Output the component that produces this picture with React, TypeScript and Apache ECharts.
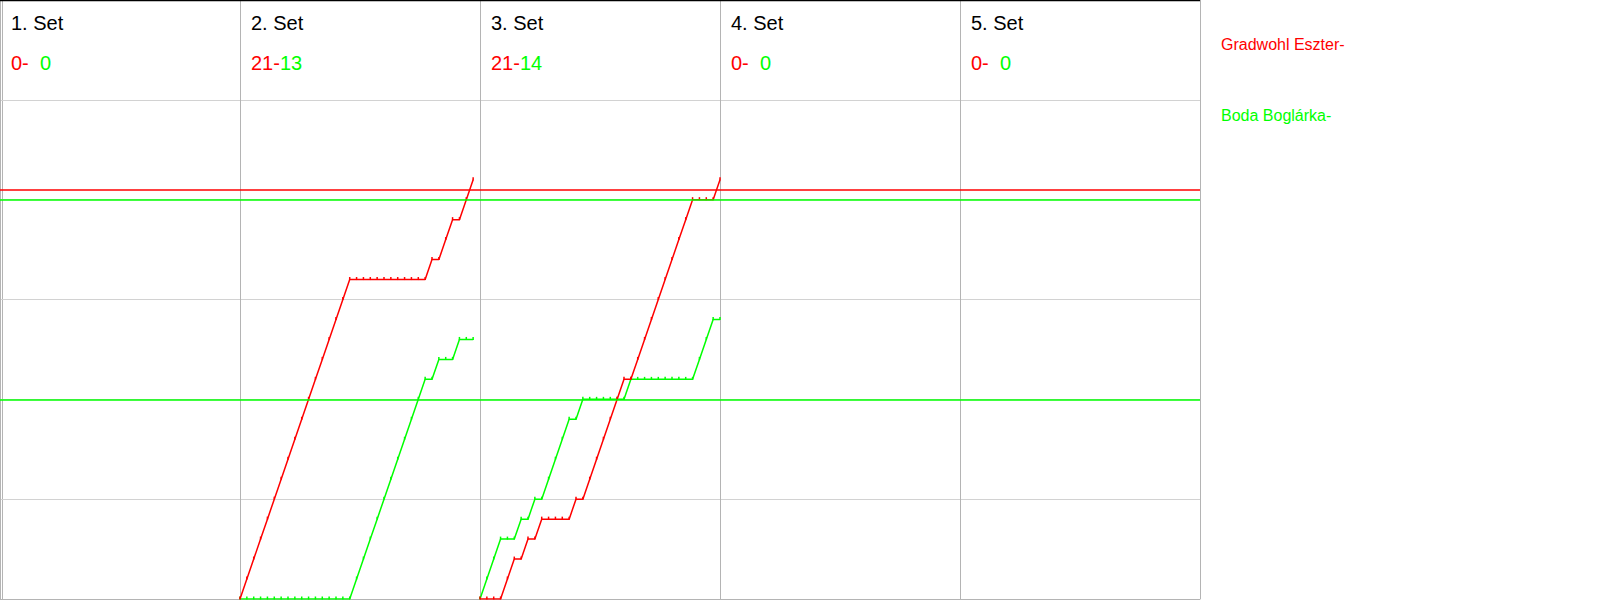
import React, { useEffect, useRef } from 'react';
import * as echarts from 'echarts';

// ---- data ----
const SET_LABELS = ['1. Set', '2. Set', '3. Set', '4. Set', '5. Set'];
const RED_NAME = 'Gradwohl Eszter-';
const GREEN_NAME = 'Boda Boglárka-';
const RED_COLOR = '#ff0000';
const GREEN_COLOR = '#00ff00';
const RALLIES_PER_SET = 35;

// rally winners per set, run-length encoded: [winner, count]
const set1Runs: [string, number][] = [];
const set2Runs: [string, number][] = [['R', 16], ['G', 11], ['R', 1], ['G', 1], ['R', 2], ['G', 1], ['R', 2]];
const set3Runs: [string, number][] = [
  ['G', 3], ['R', 2], ['G', 1], ['R', 1], ['G', 1], ['R', 1], ['G', 4], ['R', 1],
  ['G', 1], ['R', 6], ['G', 1], ['R', 9], ['G', 3], ['R', 1],
];
const set4Runs: [string, number][] = [];
const set5Runs: [string, number][] = [];
const SET_RUNS = [set1Runs, set2Runs, set3Runs, set4Runs, set5Runs];

// horizontal reference lines (score values)
const redRefLines = [20.5];
const greenRefLines = [20, 10];

const FONT = '"Liberation Sans", Arial, sans-serif';

function buildSeries(runs: [string, number][][]) {
  const red: (number[] | null)[] = [];
  const green: (number[] | null)[] = [];
  const finals: { r: number; g: number }[] = [];
  runs.forEach((setRuns, s) => {
    let r = 0;
    let g = 0;
    let i = 0;
    const base = s * RALLIES_PER_SET;
    if (setRuns.length) {
      red.push([base, 0]);
      green.push([base, 0]);
    }
    setRuns.forEach(([w, n]) => {
      for (let k = 0; k < n; k++) {
        i++;
        if (w === 'R') r++;
        else g++;
        red.push([base + i, r]);
        green.push([base + i, g]);
      }
    });
    if (setRuns.length) {
      red.push(null);
      green.push(null);
    }
    finals.push({ r, g });
  });
  return { red, green, finals };
}

export default function App() {
  const ref = useRef<HTMLDivElement>(null);
  useEffect(() => {
    if (!ref.current) return;
    const chart = echarts.init(ref.current, null, { renderer: 'svg', width: 1600, height: 600 });
    const { red, green, finals } = buildSeries(SET_RUNS);

    const canvas = document.createElement('canvas');
    const ctx = canvas.getContext('2d')!;
    ctx.font = '20px ' + FONT;

    const colW = 240;
    const graphics: any[] = [
      { type: 'line', shape: { x1: 0, y1: 0.5, x2: 1200, y2: 0.5 }, style: { stroke: '#000', lineWidth: 1.5 }, silent: true, z: 10 },
      { type: 'line', shape: { x1: 2.5, y1: 0, x2: 2.5, y2: 600 }, style: { stroke: '#b4b4b4', lineWidth: 1 }, silent: true },
    ];
    SET_LABELS.forEach((lab, k) => {
      const x = colW * k + 11;
      graphics.push({
        type: 'text', x, y: 23, silent: true,
        style: { text: lab, font: '20px ' + FONT, fill: '#000', verticalAlign: 'middle' },
      });
      const rTxt = `${finals[k].r}-`;
      const gTxt = `${finals[k].g}`;
      const rw = ctx.measureText(rTxt).width;
      const pad = finals[k].g < 10 ? ctx.measureText('0').width : 0;
      graphics.push({
        type: 'text', x, y: 63, silent: true,
        style: { text: rTxt, font: '20px ' + FONT, fill: RED_COLOR, verticalAlign: 'middle' },
      });
      graphics.push({
        type: 'text', x: x + rw + pad, y: 63, silent: true,
        style: { text: gTxt, font: '20px ' + FONT, fill: GREEN_COLOR, verticalAlign: 'middle' },
      });
    });

    const mkLines = (vals: number[], color: string) => ({
      silent: true,
      symbol: ['none', 'none'],
      label: { show: false },
      lineStyle: { color, width: 1.5, type: 'solid', opacity: 1 },
      emphasis: { disabled: true },
      data: vals.map((v) => ({ yAxis: v, lineStyle: { color, width: 1.5, type: 'solid', opacity: 1 } })),
    });

    const option: any = {
      animation: false,
      backgroundColor: '#ffffff',
      grid: { left: 0, top: 0, width: 1200, height: 599, containLabel: false },
      xAxis: {
        type: 'value',
        min: 0,
        max: RALLIES_PER_SET * SET_LABELS.length,
        interval: RALLIES_PER_SET,
        axisLine: { show: true, lineStyle: { color: '#b4b4b4', width: 1 } },
        axisTick: { show: false },
        axisLabel: { show: false },
        splitLine: { show: true, lineStyle: { color: '#b4b4b4', width: 1 } },
      },
      yAxis: {
        type: 'value',
        min: 0,
        max: 30,
        interval: 5,
        axisLine: { show: false },
        axisTick: { show: false },
        axisLabel: { show: false },
        splitLine: { show: true, lineStyle: { color: '#d2d2d2', width: 1 } },
      },
      legend: {
        orient: 'vertical',
        left: 1211,
        top: 31,
        itemWidth: 0,
        itemHeight: 0,
        itemGap: 55,
        icon: 'none',
        selectedMode: false,
        textStyle: { fontFamily: FONT, fontSize: 16 },
        data: [
          { name: RED_NAME, textStyle: { color: RED_COLOR } },
          { name: GREEN_NAME, textStyle: { color: GREEN_COLOR } },
        ],
      },
      series: [
        {
          name: RED_NAME,
          type: 'line',
          data: red,
          connectNulls: false,
          color: RED_COLOR,
          lineStyle: { color: RED_COLOR, width: 1.5 },
          symbol: 'rect',
          symbolSize: [1.5, 3],
          symbolOffset: [0, -1],
          itemStyle: { color: RED_COLOR },
          showSymbol: true,
          z: 3,
          markLine: mkLines(redRefLines, RED_COLOR),
        },
        {
          name: GREEN_NAME,
          type: 'line',
          data: green,
          connectNulls: false,
          color: GREEN_COLOR,
          lineStyle: { color: GREEN_COLOR, width: 1.5 },
          symbol: 'rect',
          symbolSize: [1.5, 3],
          symbolOffset: [0, -1],
          itemStyle: { color: GREEN_COLOR },
          showSymbol: true,
          z: 2,
          markLine: mkLines(greenRefLines, GREEN_COLOR),
        },
      ],
      graphic: graphics,
    };
    chart.setOption(option);
    return () => chart.dispose();
  }, []);
  return (
    <div
      ref={ref}
      style={{ position: 'fixed', left: 0, top: 0, width: 1600, height: 600, background: '#fff' }}
    />
  );
}
